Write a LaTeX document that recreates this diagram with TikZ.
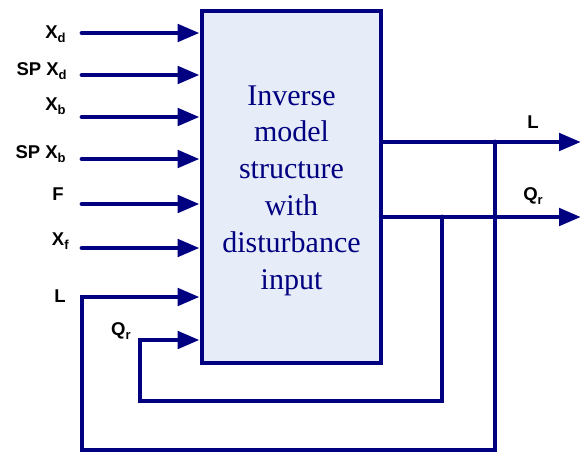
\documentclass[tikz,border=0pt]{standalone}
\usepackage{fontspec}
\setmainfont{Liberation Serif}
\setsansfont{Liberation Sans}
\usetikzlibrary{arrows.meta}
\definecolor{navy}{RGB}{0,0,128}
\definecolor{boxfill}{RGB}{230,236,248}
\newcommand{\sig}[2]{#1\raisebox{-4pt}{\fontsize{13}{13}\selectfont #2}}

\begin{document}
\begin{tikzpicture}[x=1pt,y=-1pt,line width=4.8pt,line cap=round]
  \tikzstyle{flow}=[draw=navy,-{Triangle[length=22pt,width=17pt]}]
  \tikzstyle{lbl}=[anchor=base east,inner sep=0pt,font=\sffamily\bfseries\fontsize{18.5}{18.5}\selectfont]
  \useasboundingbox (0,0) rectangle (582,453);
  % inverse model block
  \node[draw=navy,fill=boxfill,minimum width=179pt,minimum height=352pt,inner sep=0pt] (blk) at (291.5,187) {};
  \node[anchor=base,align=center,text=navy,inner sep=0pt,font=\fontsize{30}{36.8}\selectfont] (title) at (291.5,289)
    {Inverse\\model\\structure\\with\\disturbance\\input};
  % input labels
  \node[lbl] (lXd) at (68,38) {\sig{X}{d}};
  \node[lbl] (lSXd) at (69,75) {SP \sig{X}{d}};
  \node[lbl] (lXb) at (68,110) {\sig{X}{b}};
  \node[lbl] (lSXb) at (68,158) {SP \sig{X}{b}};
  \node[lbl] (lF) at (66,200) {F};
  \node[lbl] (lXf) at (71,245) {\sig{X}{f}};
  \node[lbl] (lLin) at (68,302) {L};
  \node[lbl] (lQin) at (133,335) {\sig{Q}{r}};
  % output labels
  \node[lbl,anchor=base] (lL) at (533,128) {L};
  \node[lbl,anchor=base] (lQ) at (533,200) {\sig{Q}{r}};
  % signal ends
  \coordinate (sXd) at (82,33);
  \coordinate (sSXd) at (82,75);
  \coordinate (sXb) at (82,117);
  \coordinate (sSXb) at (82,159);
  \coordinate (sF) at (82,204);
  \coordinate (sXf) at (82,248);
  \coordinate (inL) at (82,297);
  \coordinate (fbL) at (82,450);
  \coordinate (inQ) at (140,340);
  \coordinate (fbQ) at (140,401);
  \coordinate (jL) at (495,142);
  \coordinate (jQ) at (442,217);
  \coordinate (oL) at (581,142);
  \coordinate (oQ) at (581,217);
  % inputs
  \draw[flow] (sXd) -- (blk.west |- sXd);
  \draw[flow] (sSXd) -- (blk.west |- sSXd);
  \draw[flow] (sXb) -- (blk.west |- sXb);
  \draw[flow] (sSXb) -- (blk.west |- sSXb);
  \draw[flow] (sF) -- (blk.west |- sF);
  \draw[flow] (sXf) -- (blk.west |- sXf);
  % outputs
  \draw[flow] (blk.east |- jL) -- (oL);
  \draw[flow] (blk.east |- jQ) -- (oQ);
  % feedback
  \draw[flow] (jL) |- (fbL) -- (inL) -- (blk.west |- inL);
  \draw[flow] (jQ) |- (fbQ) -- (inQ) -- (blk.west |- inQ);
\end{tikzpicture}
\end{document}
